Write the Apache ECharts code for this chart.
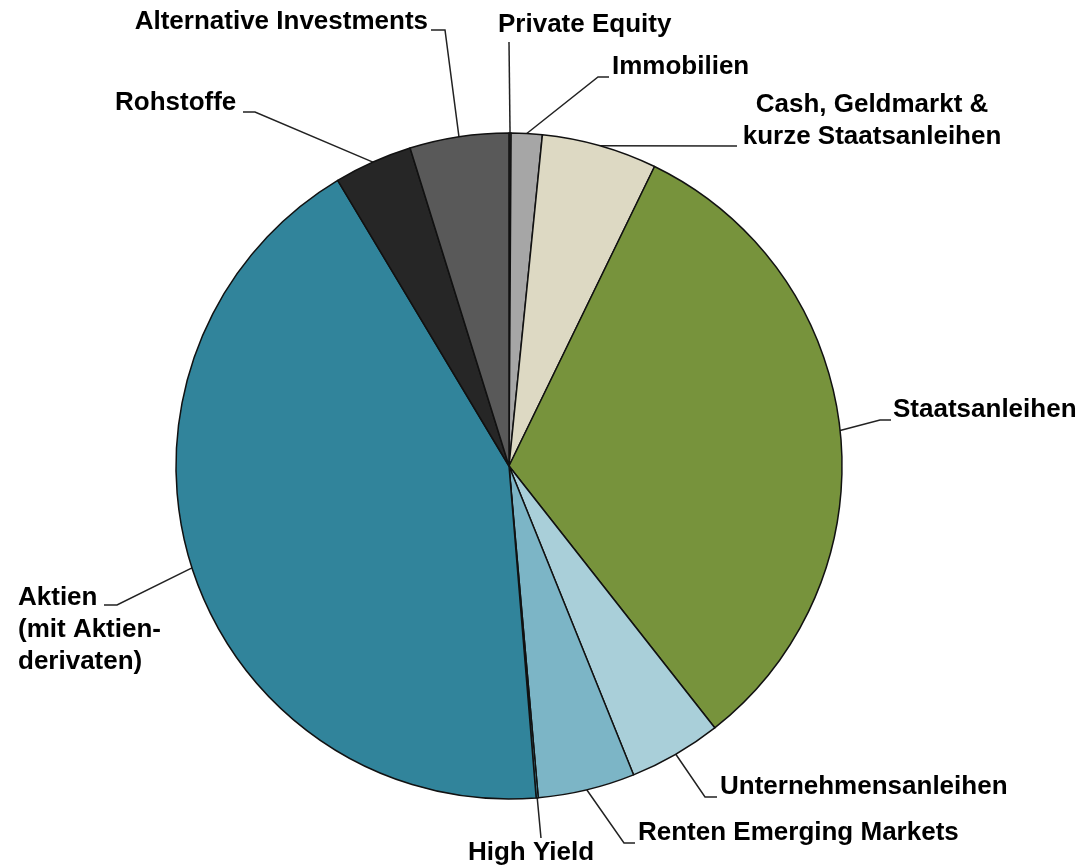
<!DOCTYPE html>
<html>
<head>
<meta charset="utf-8">
<script src="https://cdn.jsdelivr.net/npm/echarts@6/dist/echarts.min.js"></script>
<style>
    html, body { margin: 0; background: #fff; }
    #chart { width: 1086px; height: 867px; }
</style>
</head>
<body>
<div id="chart"></div>
<script>
//======================================================================================================================
// Data (clockwise from 12 o'clock, in percent)
//======================================================================================================================

var categories = [
    'Private Equity',
    'Immobilien',
    'Cash, Geldmarkt &\nkurze Staatsanleihen',
    'Staatsanleihen',
    'Unternehmensanleihen',
    'Renten Emerging Markets',
    'High Yield',
    'Aktien\n(mit Aktien-\nderivaten)',
    'Rohstoffe',
    'Alternative Investments'
];
var shares = [0.1, 1.5, 5.6, 32.2, 4.5, 4.7, 0.1, 42.7, 3.8, 4.8];

//======================================================================================================================
// Styling
//======================================================================================================================

var colors = ['#7f7f7f', '#a6a6a6', '#ddd9c3', '#77933c', '#a9cfd9', '#7cb5c6', '#4bacc6', '#31849b', '#262626', '#595959'];

// where each label sits and the elbow points of its leader line (the line starts on the slice)
var labelSpots = [
    { x: 498, y: 25,  align: 'left',   line: [[509, 42]] },
    { x: 612, y: 67,  align: 'left',   line: [[598, 77], [609, 77]] },
    { x: 872, y: 121, align: 'center', line: [[737, 146]] },
    { x: 893, y: 410, align: 'left',   line: [[880, 420], [891, 420]] },
    { x: 720, y: 787, align: 'left',   line: [[705, 797], [717, 797]] },
    { x: 638, y: 833, align: 'left',   line: [[624, 843], [635, 843]] },
    { x: 531, y: 853, align: 'center', line: [[541, 838]] },
    { x: 18,  y: 630, align: 'left',   line: [[117, 605], [104, 605]] },
    { x: 115, y: 103, align: 'left',   line: [[255, 112], [243, 112]] },
    { x: 428, y: 22,  align: 'right',  line: [[445, 30], [431, 30]] }
];

var eData = shares.map(function(v, i) {
    return { value: v, name: categories[i], itemStyle: { color: colors[i] } };
});

echarts.init(document.getElementById('chart')).setOption({
    backgroundColor: '#fff',
    animation: false,
    series: [{
        type: 'pie',
        center: [509, 466],
        radius: 333,
        startAngle: 90,
        clockwise: true,
        avoidLabelOverlap: false,
        itemStyle: {
            borderColor: '#111',
            borderWidth: 1.5
        },
        label: {
            show: true,
            formatter: '{b}',
            color: '#000',
            fontFamily: '"Liberation Sans", Arial, sans-serif',
            fontWeight: 'bold',
            fontSize: 26,
            lineHeight: 32
        },
        labelLine: {
            show: true,
            length: 20,
            length2: 10,
            lineStyle: { color: '#222', width: 1.5 }
        },
        labelLayout: function(p) {
            var s = labelSpots[p.dataIndex];
            var start = p.labelLinePoints[0];
            return {
                x: s.x,
                y: s.y,
                align: s.align,
                verticalAlign: 'middle',
                labelLinePoints: [[start[0], start[1]]].concat(s.line)
            };
        },
        emphasis: { disabled: true },
        data: eData
    }]
});
</script>
</body>
</html>
